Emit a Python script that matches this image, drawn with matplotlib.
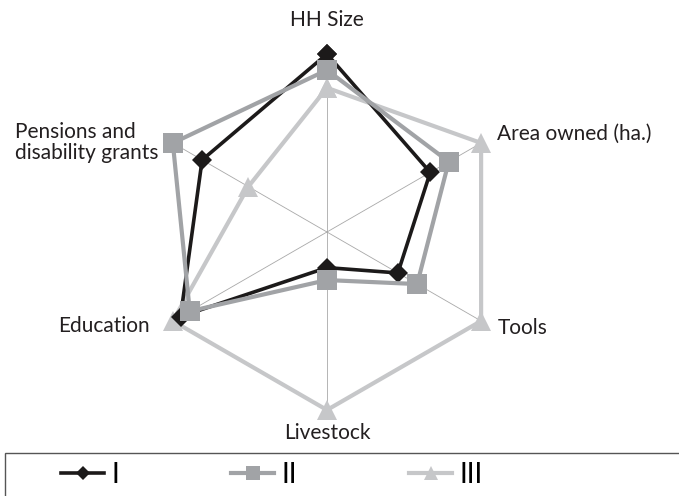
import numpy as np
import matplotlib.pyplot as plt
from matplotlib.patches import Rectangle

plt.rcParams['font.family'] = ['Lato', 'DejaVu Sans']

# axes in clockwise order starting at the top
categories = ['HH Size', 'Area owned (ha.)', 'Tools', 'Livestock', 'Education',
              'Pensions and\ndisability grants']
group_I = [1.00, 0.67, 0.46, 0.20, 0.95, 0.81]
group_II = [0.91, 0.79, 0.585, 0.27, 0.89, 1.00]
group_III = [0.81, 1.00, 1.00, 1.00, 1.00, 0.51]
series_names = ['I', 'II', 'III']

theta = np.deg2rad(np.arange(len(categories)) * 60.0)
theta_c = np.append(theta, theta[0])

fig = plt.figure(figsize=(6.79, 4.96), dpi=100)
ax = fig.add_axes([0.2194, 0.1734, 0.5243, 0.7177], projection='polar')
ax.set_theta_offset(np.pi / 2)
ax.set_theta_direction(-1)
ax.set_ylim(0, 1)
ax.set_xticks(theta)
ax.set_xticklabels([])
ax.set_yticks([])
ax.xaxis.grid(True, color='#a8a8a8', lw=0.6)
ax.spines['polar'].set_visible(False)
ax.patch.set_alpha(0)

styles = [
    (group_III, '#c6c7c9', '^', 15, 3.0, 2),
    (group_I, '#1c1a1a', 'D', 10, 2.6, 3),
    (group_II, '#a1a3a6', 's', 14, 3.0, 4),
]
handles = {}
for vals, col, mk, ms, lw, z in styles:
    v = np.append(vals, vals[0])
    ln, = ax.plot(theta_c, v, color=col, marker=mk, markersize=ms, lw=lw,
                  zorder=z, clip_on=False, markeredgewidth=0)
    handles[mk] = ln

txt = dict(fontsize=15, color='#231f20')
ax.text(theta[0], 1.19, categories[0], ha='center', va='center', **txt)
ax.text(theta[1], 1.10, categories[1], ha='left', va='center', **txt)
ax.text(np.deg2rad(119.5), 1.10, categories[2], ha='left', va='center', **txt)
ax.text(theta[3], 1.13, categories[3], ha='center', va='center', **txt)
ax.text(np.deg2rad(242), 1.13, categories[4], ha='right', va='center', **txt)
ax.text(np.deg2rad(298), 1.07, categories[5], ha='right', va='center',
        multialignment='left', linespacing=1.05, **txt)

# legend box (only left and top edges are inside the picture)
fig.patches.append(Rectangle((5 / 679, -0.05), 1.1, 0.05 + 43 / 496,
                             transform=fig.transFigure, fill=False,
                             edgecolor='#555555', lw=1.0))

leg_handles = [handles['D'], handles['s'], handles['^']]
fig.legend(leg_handles, series_names, loc='center left',
           bbox_to_anchor=(61 / 679, 21 / 496), ncol=3, frameon=False,
           fontsize=20, handlelength=1.55, handletextpad=0.25,
           columnspacing=4.05, borderaxespad=0, borderpad=0,
           markerscale=0.7)

fig.savefig('out.png', dpi=100)
